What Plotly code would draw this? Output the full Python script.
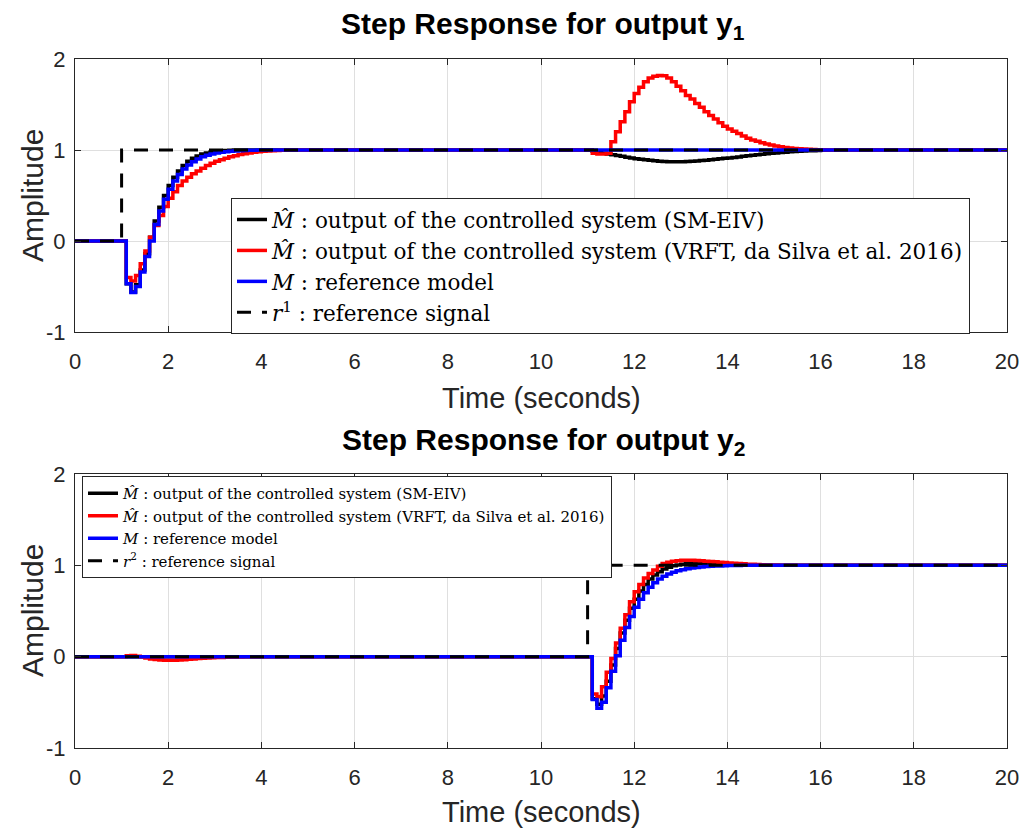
import numpy as np
import plotly.graph_objects as go
from plotly.subplots import make_subplots

# ---------------- data (sampled every 0.1 s) ----------------
t_start, t_end, dt = 0.0, 20.0, 0.1
time = np.round(np.arange(t_start, t_end + dt / 2, dt), 1)
N = len(time)

# output y1 transients
M1_step = [-0.47, -0.565, -0.50, -0.34, -0.17, 0.00, 0.18, 0.33, 0.46, 0.57, 0.66, 0.73,
           0.79, 0.835, 0.87, 0.90, 0.925, 0.943, 0.957, 0.968, 0.976, 0.982, 0.987, 0.99,
           0.993, 0.995, 0.997, 0.998, 0.999]
B1_step = [-0.47, -0.56, -0.48, -0.32, -0.14, 0.04, 0.22, 0.37, 0.50, 0.61, 0.70, 0.77,
           0.83, 0.875, 0.91, 0.935, 0.955, 0.968, 0.978, 0.985, 0.99, 0.994, 0.997, 0.999]
B1_cross = [0.985, 0.975, 0.965, 0.957, 0.948, 0.94, 0.93, 0.92, 0.912, 0.905, 0.898, 0.892,
            0.886, 0.881, 0.877, 0.874, 0.872, 0.871, 0.871, 0.872, 0.874, 0.877, 0.88, 0.884,
            0.888, 0.893, 0.898, 0.903, 0.908, 0.913, 0.918, 0.924, 0.93, 0.936, 0.942, 0.948,
            0.953, 0.958, 0.963, 0.968, 0.972, 0.976, 0.98, 0.983, 0.986, 0.989, 0.991, 0.993,
            0.995, 0.996, 0.997, 0.998, 0.999]
R1_step = [-0.40, -0.44, -0.38, -0.25, -0.11, 0.04, 0.17, 0.28, 0.38, 0.47, 0.54, 0.61,
           0.66, 0.70, 0.74, 0.77, 0.80, 0.83, 0.855, 0.875, 0.893, 0.91, 0.925, 0.938,
           0.95, 0.96, 0.968, 0.975, 0.98, 0.985, 0.989, 0.992, 0.995, 0.997, 0.998, 0.999]
R1_cross = [0.965, 0.955, 0.955, 0.965, 1.09, 1.20, 1.31, 1.42, 1.53, 1.62, 1.69, 1.75,
            1.79, 1.81, 1.82, 1.815, 1.79, 1.75, 1.70, 1.65, 1.60, 1.56, 1.51, 1.47,
            1.42, 1.38, 1.34, 1.30, 1.26, 1.23, 1.205, 1.18, 1.155, 1.13, 1.11, 1.095,
            1.08, 1.066, 1.055, 1.044, 1.035, 1.028, 1.022, 1.017, 1.013, 1.01, 1.007,
            1.005, 1.003, 1.002, 1.001]

# output y2 transients
M2_step = [-0.47, -0.565, -0.50, -0.34, -0.16, 0.01, 0.18, 0.32, 0.44, 0.54, 0.63, 0.70,
           0.76, 0.81, 0.85, 0.88, 0.905, 0.925, 0.94, 0.952, 0.962, 0.97, 0.977, 0.982,
           0.986, 0.989, 0.992, 0.994, 0.996, 0.997, 0.998, 0.999]
B2_step = [-0.46, -0.52, -0.43, -0.27, -0.09, 0.09, 0.26, 0.40, 0.53, 0.63, 0.72, 0.79,
           0.85, 0.895, 0.93, 0.96, 0.98, 0.995, 1.005, 1.012, 1.016, 1.018, 1.018, 1.017,
           1.015, 1.013, 1.011, 1.009, 1.007, 1.005, 1.004, 1.003, 1.002, 1.001]
R2_cross = [0.01, 0.012, 0.005, -0.005, -0.015, -0.025, -0.032, -0.037, -0.04, -0.04,
            -0.039, -0.036, -0.033, -0.029, -0.025, -0.021, -0.018, -0.015, -0.012, -0.01,
            -0.008, -0.006, -0.005, -0.004, -0.003, -0.002, -0.001]
R2_step = [-0.41, -0.44, -0.33, -0.17, -0.02, 0.15, 0.31, 0.46, 0.60, 0.71, 0.79, 0.86,
           0.91, 0.95, 0.99, 1.02, 1.035, 1.045, 1.05, 1.055, 1.057, 1.056, 1.054, 1.05,
           1.046, 1.042, 1.038, 1.034, 1.03, 1.026, 1.022, 1.019, 1.016, 1.013, 1.011,
           1.009, 1.007, 1.005, 1.004, 1.003, 1.002, 1.001]

ref_step_1 = 1.0     # reference r1 switches
ref_step_2 = 11.0    # reference r2 switches
resp_step_1 = 1.1    # first sample where the y1 responses leave 0
resp_step_2 = 11.1   # first sample where the y2 responses leave 0

x_ticks = [0, 2, 4, 6, 8, 10, 12, 14, 16, 18, 20]
x_ticklabels = ["0", "2", "4", "6", "8", "10", "12", "14", "16", "18", "20"]
y_ticks = [-1, 0, 1, 2]
y_ticklabels = ["-1", "0", "1", "2"]

names_1 = ["<i>M\u0302</i> : output of the controlled system (SM-EIV)",
           "<i>M\u0302</i> : output of the controlled system (VRFT, da Silva et al. 2016)",
           "<i>M</i> : reference model",
           "<i>r</i><sup>1</sup> : reference signal"]
names_2 = ["<i>M\u0302</i> : output of the controlled system (SM-EIV)",
           "<i>M\u0302</i> : output of the controlled system (VRFT, da Silva et al. 2016)",
           "<i>M</i> : reference model",
           "<i>r</i><sup>2</sup> : reference signal"]


def idx(tv):
    return int(round(tv / dt))


def build(step_at, segments):
    y = np.zeros(N)
    y[idx(step_at):] = 1.0
    for t0, vals in segments:
        k = idx(t0)
        y[k:k + len(vals)] = vals
    return y


r1 = build(ref_step_1, [])
r2 = build(ref_step_2, [])
y1_black = build(resp_step_1, [(1.1, B1_step), (11.1, B1_cross)])
y1_red = build(resp_step_1, [(1.1, R1_step), (11.1, R1_cross)])
y1_blue = build(resp_step_1, [(1.1, M1_step)])
y2_black = build(resp_step_2, [(11.1, B2_step)])
y2_red = build(resp_step_2, [(1.1, R2_cross), (11.1, R2_step)])
y2_blue = build(resp_step_2, [(11.1, M2_step)])

# ---------------- figure ----------------
W, H = 1028, 828
OFF = 8                      # page body margin
L = 75 - OFF
R = W - (1007 - OFF)
fig = make_subplots(rows=2, cols=1)

colors = ["#000000", "#ff0000", "#0000ff", "#000000"]
series_1 = [y1_black, y1_red, y1_blue, r1]
series_2 = [y2_black, y2_red, y2_blue, r2]

for i, (ys, nm) in enumerate(zip(series_1, names_1)):
    fig.add_trace(go.Scatter(
        x=time, y=ys, mode="lines", name=nm, legend="legend",
        line=dict(color=colors[i], width=3.5 if i < 3 else 3,
                  shape="hv", dash="solid" if i < 3 else "14px,11px")),
        row=1, col=1)
for i, (ys, nm) in enumerate(zip(series_2, names_2)):
    fig.add_trace(go.Scatter(
        x=time, y=ys, mode="lines", name=nm, legend="legend2",
        line=dict(color=colors[i], width=3.5 if i < 3 else 3,
                  shape="hv", dash="solid" if i < 3 else "14px,11px")),
        row=2, col=1)

axis_col = "#262626"
tick_font = dict(family="Liberation Sans, Arial", size=22, color=axis_col)
common_x = dict(range=[0, 20], tickvals=x_ticks, ticktext=x_ticklabels, showgrid=True,
                gridcolor="#dfdfdf", gridwidth=1, showline=True, linecolor=axis_col,
                linewidth=1, mirror="ticks", ticks="inside", ticklen=6, tickcolor=axis_col,
                zeroline=False, tickfont=tick_font, automargin=False, ticklabelstandoff=10)
common_y = dict(range=[-1, 2], tickvals=y_ticks, ticktext=y_ticklabels, showgrid=True,
                gridcolor="#dfdfdf", gridwidth=1, showline=True, linecolor=axis_col,
                linewidth=1, mirror="ticks", ticks="inside", ticklen=6, tickcolor=axis_col,
                zeroline=False, tickfont=tick_font, automargin=False, ticklabelstandoff=4)

fig.update_xaxes(**common_x)
fig.update_yaxes(**common_y)


def py(pix):
    return 1 - (pix - OFF) / H


fig.update_layout(
    xaxis=dict(domain=[0, 1]),
    xaxis2=dict(domain=[0, 1]),
    yaxis=dict(domain=[py(332), py(59)]),
    yaxis2=dict(domain=[py(748), py(474)]),
)

title_font = dict(family="Liberation Sans, Arial", size=30, color="#000000")
label_font = dict(family="Liberation Sans, Arial", size=29, color=axis_col)
amp_font = dict(family="Liberation Sans, Arial", size=30, color=axis_col)
pw = W - L - R


def px(pix):
    return (pix - OFF - L) / pw


annotations = [
    dict(text="<b>Step Response for output y<sub>1</sub></b>", x=px(543), y=py(26),
         xref="paper", yref="paper", showarrow=False, font=title_font,
         xanchor="center", yanchor="middle"),
    dict(text="<b>Step Response for output y<sub>2</sub></b>", x=px(543), y=py(441),
         xref="paper", yref="paper", showarrow=False, font=title_font,
         xanchor="center", yanchor="middle"),
    dict(text="Time (seconds)", x=px(541), y=py(398), xref="paper", yref="paper",
         showarrow=False, font=label_font, xanchor="center", yanchor="middle"),
    dict(text="Time (seconds)", x=px(541), y=py(812), xref="paper", yref="paper",
         showarrow=False, font=label_font, xanchor="center", yanchor="middle"),
    dict(text="Amplitude", x=px(32), y=py(196), xref="paper", yref="paper",
         showarrow=False, font=amp_font, textangle=-90, xanchor="center", yanchor="middle"),
    dict(text="Amplitude", x=px(32), y=py(611), xref="paper", yref="paper",
         showarrow=False, font=amp_font, textangle=-90, xanchor="center", yanchor="middle"),
]

fig.update_layout(
    width=W, height=H,
    margin=dict(l=L, r=R, t=0, b=0, autoexpand=False),
    paper_bgcolor="#ffffff", plot_bgcolor="#ffffff",
    annotations=annotations,
    legend=dict(x=px(231), y=py(198), xanchor="left", yanchor="top",
                bgcolor="#ffffff", bordercolor=axis_col, borderwidth=1,
                font=dict(family="DejaVu Serif", size=21.5, color="#000000"),
                itemwidth=30, tracegroupgap=0),
    legend2=dict(x=px(82), y=py(476), xanchor="left", yanchor="top",
                 bgcolor="#ffffff", bordercolor=axis_col, borderwidth=1,
                 font=dict(family="DejaVu Serif", size=15, color="#000000"),
                 itemwidth=30, tracegroupgap=0),
    showlegend=True,
)

fig.write_html("out.html")
